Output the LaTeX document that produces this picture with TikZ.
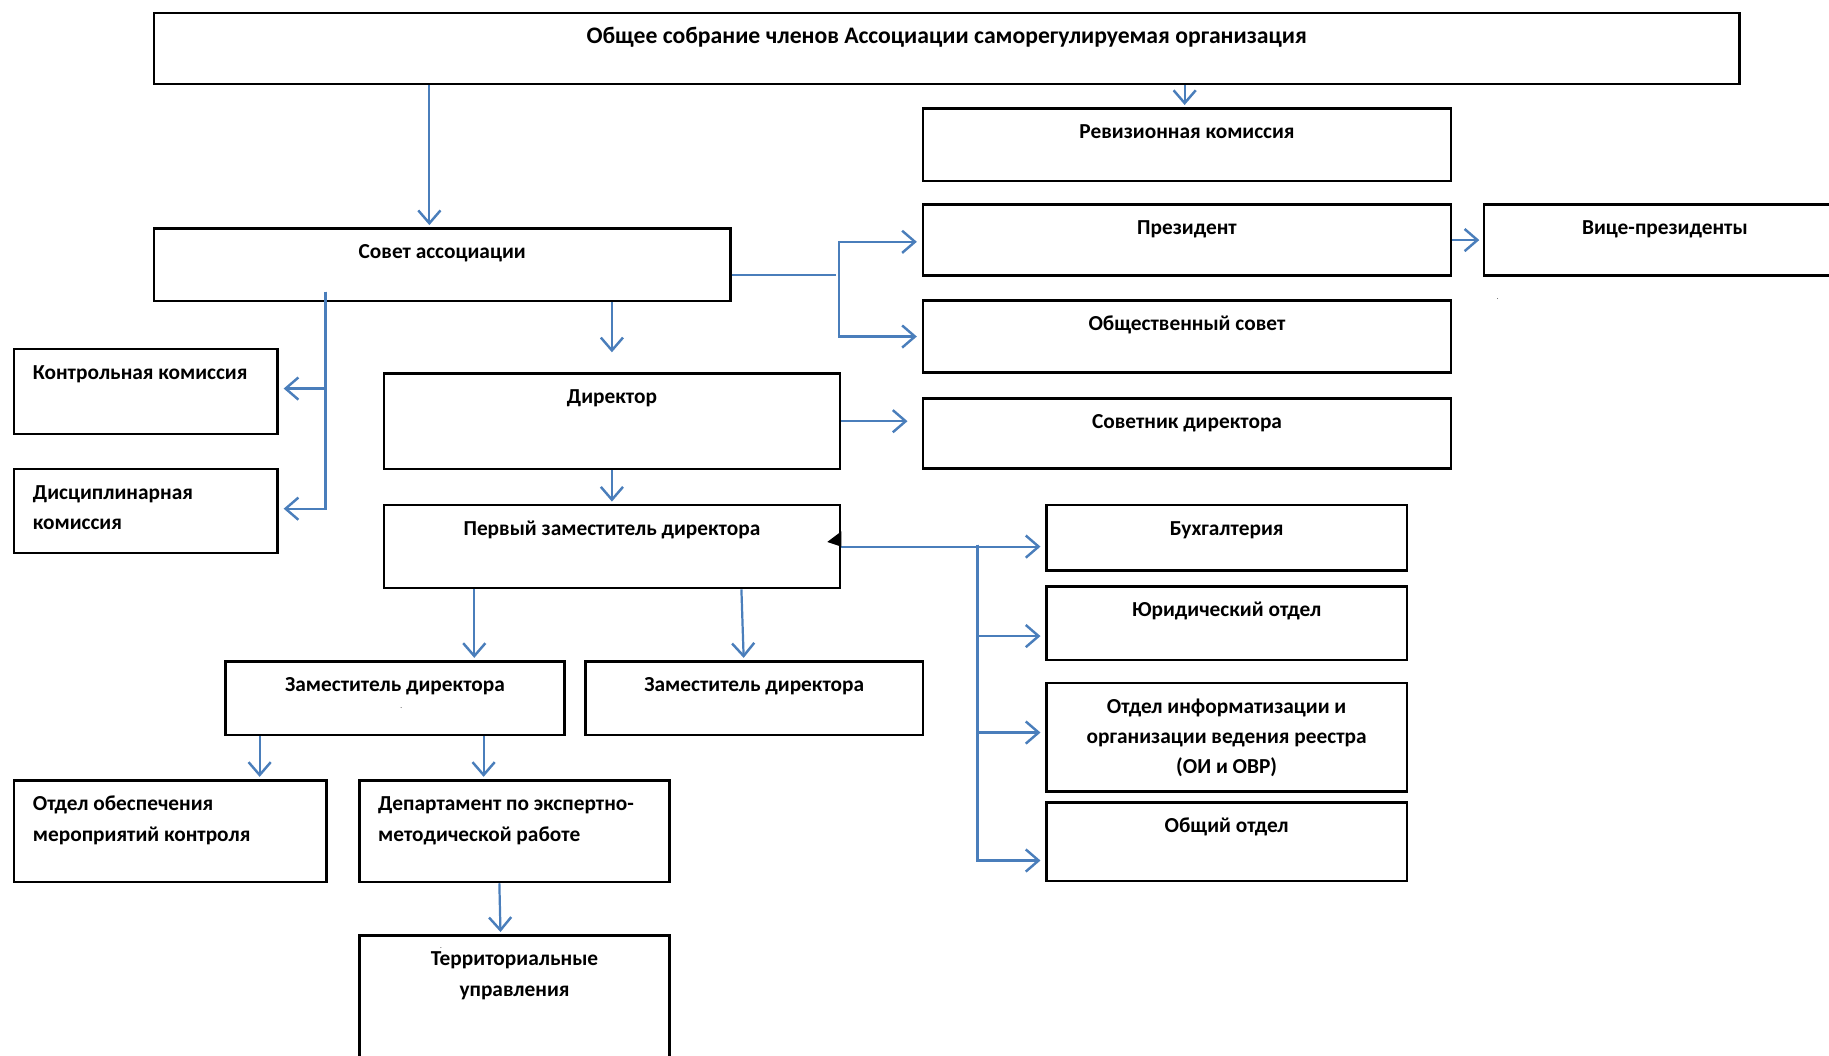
\documentclass[tikz,border=0pt]{standalone}
\usepackage{fontspec}
\setmainfont{Carlito}
\usetikzlibrary{arrows.meta,positioning}
\definecolor{linkblue}{RGB}{74,126,187}

\begin{document}
\begin{tikzpicture}[x=1pt, y=-1pt, >={Straight Barb[length=11pt,width=19pt,line width=2.1pt]},
    box/.style={draw, line width=2.2pt, anchor=north west, inner sep=0pt},
    boxsize/.style 2 args={minimum width=#1pt, minimum height=#2pt},
    txt/.style={anchor=base, yshift=-27pt, inner sep=0pt, align=center, font=\bfseries\fontsize{18.3}{26}\selectfont},
    ltxt/.style={txt, anchor=base west, xshift=17pt, align=left},
    link/.style={draw=linkblue, line width=1.9pt, shorten >=2pt}]
    \useasboundingbox (0,0) rectangle (1568,905);
    \clip (0,0) rectangle (1568,905);

    \node[box, boxsize={1359}{61}, label={[txt, font=\bfseries\fontsize{20.3}{26}\selectfont]north:Общее собрание членов Ассоциации саморегулируемая организация}] (sobranie) at (131,10) {};
    \node[box, boxsize={453}{62}, label={[txt]north:Ревизионная комиссия}] (revkom) at (790,92) {};
    \node[box, boxsize={453}{61}, label={[txt]north:Президент}] (prezident) [below=18pt of revkom] {};
    \node[box, boxsize={310}{61}, label={[txt]north:Вице-президенты}] (vice) [right=26pt of prezident] {};
    \node[box, boxsize={453}{62}, label={[txt]north:Общественный совет}] (obshsovet) [below=19pt of prezident] {};
    \node[box, boxsize={453}{60}, label={[txt]north:Советник директора}] (sovetnik) [below=20pt of obshsovet] {};

    \node[box, boxsize={494}{62}, label={[txt]north:Совет ассоциации}] (sovet) at (131,195) {};
    \node[box, boxsize={226}{73}, label={[ltxt]north west:Контрольная комиссия}] (kontrol) at (11,298) {};
    \node[box, boxsize={226}{72}, label={[ltxt, yshift=-26pt]north west:Дисциплинарная\\комиссия}] (discipl) at (11,401) {};
    \node[box, boxsize={391}{82}, label={[txt]north:Директор}] (direktor) at (328,319) {};
    \node[box, boxsize={391}{71}, label={[txt]north:Первый заместитель директора}] (perviy) at (328,432) {};
    \node[box, boxsize={291}{63}, label={[txt]north:Заместитель директора}] (zam1) at (192,566) {};
    \node[box, boxsize={289}{63}, label={[txt]north:Заместитель директора}] (zam2) at (501,566) {};
    \node[box, boxsize={268}{87}, label={[ltxt, yshift=-26pt]north west:Отдел обеспечения\\мероприятий контроля}] (otdel) at (11,668) {};
    \node[box, boxsize={266}{87}, label={[ltxt, yshift=-26pt]north west:Департамент по экспертно-\\методической работе}] (dept) at (307,668) {};
    \node[box, boxsize={266}{130}, label={[txt, yshift=-26pt]north:Территориальные\\управления}] (terr) at (307,801) {};

    \node[box, boxsize={309}{56}, label={[txt]north:Бухгалтерия}] (buh) at (896,432) {};
    \node[box, boxsize={309}{63}, label={[txt]north:Юридический отдел}] (yurid) [below=11.5pt of buh] {};
    \node[box, boxsize={309}{93}, label={[txt, yshift=-52pt]north:Отдел информатизации и\\организации ведения реестра\\(ОИ и ОВР)}] (oi) [below=17.5pt of yurid] {};
    \node[box, boxsize={309}{67}, label={[txt]north:Общий отдел}] (obshiy) [below=7.5pt of oi] {};

    \coordinate (j1) at (719,236);
    \coordinate (j2) at (279,250);
    \coordinate (j3) at (838,467);

    \draw[link,->] ([xshift=-11pt]sovet.north |- sobranie.south) -- ([xshift=-11pt]sovet.north);
    \draw[link,->] ([xshift=-2pt]revkom.north |- sobranie.south) -- ([xshift=-2pt]revkom.north);
    \draw[link] (sovet.east |- j1) -- (j1);
    \draw[link,->,shorten >=4pt] (j1) |- ([yshift=-1.5pt]prezident.west);
    \draw[link,->,shorten >=4pt] (j1) |- (obshsovet.west);
    \draw[link,->,shorten >=3pt] (prezident.east) -- (vice.west);
    \draw[link,->] (sovet.south -| direktor.north) -- ([yshift=15pt]direktor.north);
    \draw[link,->,shorten >=4pt] (j2) |- ([yshift=2.5pt]kontrol.east);
    \draw[link,->,shorten >=4pt] (j2) |- ([yshift=2pt]discipl.east);
    \draw[link,->] (direktor.east) -- ([xshift=-10pt]sovetnik.west |- direktor.east);
    \draw[link,->] (direktor.south) -- (perviy.north);
    \draw[link,->,shorten >=4pt] (perviy.east) -- (perviy.east -| buh.west);
    \draw[link,->,shorten >=4pt] (j3) |- ([yshift=-11pt]yurid.west);
    \draw[link,->,shorten >=4pt] (j3) |- ([yshift=4pt]oi.west);
    \draw[link,->,shorten >=4pt] (j3) |- ([yshift=-16pt]obshiy.west);
    \draw[link,->] ([xshift=-118pt]perviy.south) -- ([xshift=-118pt]perviy.south |- zam1.north);
    \draw[link,->] ([xshift=111pt]perviy.south) -- ([xshift=-9pt]zam2.north);
    \draw[link,->] ([xshift=-116pt]zam1.south) -- ([xshift=-116pt]zam1.south |- otdel.north);
    \draw[link,->] ([xshift=76pt]zam1.south) -- ([xshift=76pt]zam1.south |- dept.north);
    \draw[link,->] ([xshift=-13pt]dept.south) -- ([xshift=-12pt]terr.north);
    \fill ([yshift=13pt]perviy.east) -- ++(-12,9) -- (perviy.east) -- cycle;

    \node[anchor=base, inner sep=0pt, font=\fontsize{6}{6}\selectfont] (dot1) at (344,607) {.};
    \node[anchor=base, inner sep=0pt, font=\fontsize{6}{6}\selectfont] (dot2) at (1284,257) {.};
    \node[anchor=base, inner sep=0pt, font=\fontsize{6}{6}\selectfont] (dot3) at (378,813) {.};
\end{tikzpicture}
\end{document}
